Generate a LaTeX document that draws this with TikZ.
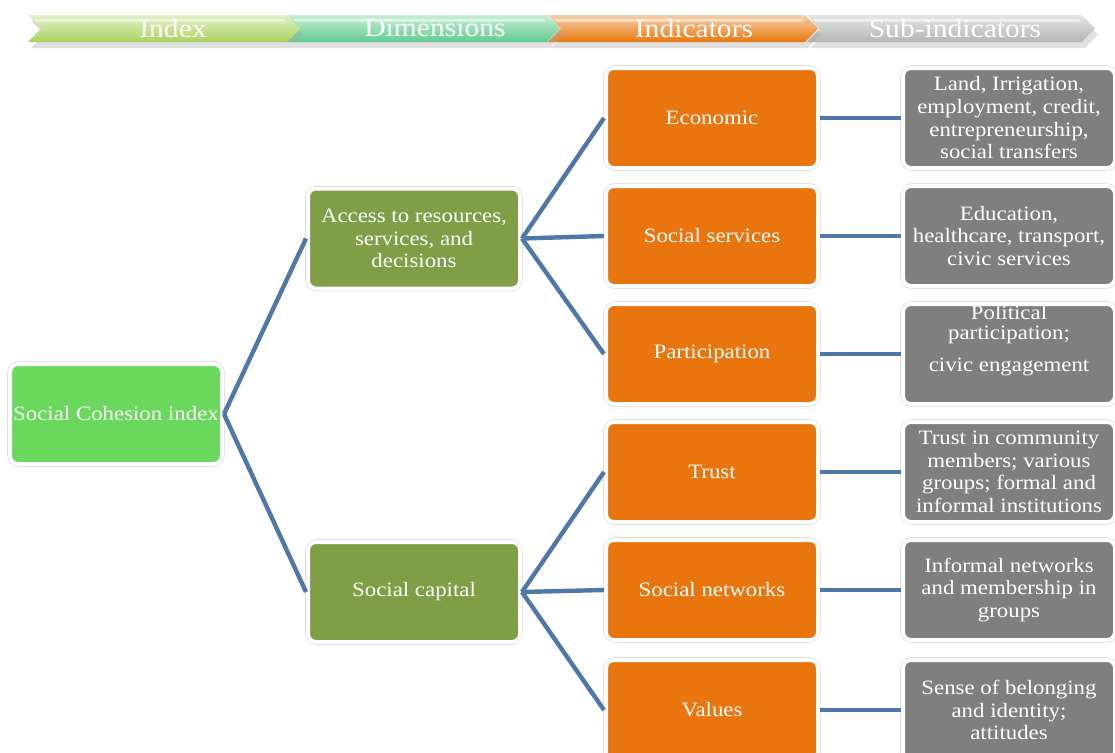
\documentclass[tikz,border=0pt]{standalone}
\usepackage{fontspec}
\setmainfont[FakeStretch=1.12]{Liberation Serif}
\definecolor{cGreen}{HTML}{6AD75D}
\definecolor{cOlive}{HTML}{7F9E45}
\definecolor{cOrange}{HTML}{E8750E}
\definecolor{cGrey}{HTML}{7F7F7F}
\definecolor{cLink}{HTML}{4F78A8}
\definecolor{hIndex}{HTML}{ABD35F}
\definecolor{hDim}{HTML}{62CC8E}
\definecolor{hInd}{HTML}{E8780F}
\definecolor{hSub}{HTML}{B5B5B5}
\tikzset{
  box/.style={rounded corners=6pt, draw=white, line width=3pt,
    preaction={draw=black!18, line width=3.8pt},
    minimum width=159pt, minimum height=75pt, align=center, text=white,
    font=\fontsize{15.3}{17}\selectfont, inner sep=1pt},
  gbox/.style={box, fill=cGreen},
  obox/.style={box, fill=cOlive},
  orbox/.style={box, fill=cOrange},
  grbox/.style={box, fill=cGrey},
  link/.style={draw=cLink, line width=3.3pt},
  htext/.style={text=white, font=\fontsize{19.8}{22}\selectfont},
  ltext/.style={text=white, font=\fontsize{15.3}{17}\selectfont, inner sep=0pt},
}
\newcommand{\chev}[3]{%
  \fill[black!35, opacity=0.35] (#1+3,21) -- (#2-10,21) -- (#2+3,34.5) -- (#2-10,48) -- (#1+3,48) -- (#1+16,34.5) -- cycle;
  \shade[top color=#3!35!white, middle color=#3!55!white, bottom color=#3]
    (#1,15) -- (#2-13,15) -- (#2,28.5) -- (#2-13,42) -- (#1,42) -- (#1+13,28.5) -- cycle;
  \fill[white, opacity=0.55] (#1+6,19) -- (#2-16,19) -- (#2-15,21.5) -- (#1+8,21.5) -- cycle;
}
\begin{document}
\begin{tikzpicture}[x=0.75pt, y=-0.75pt]
\useasboundingbox (0,0) rectangle (1115,753);
\clip (0,0) rectangle (1115,753);
% header
\chev{807}{1095}{hSub}
\chev{548}{818}{hInd}
\chev{287}{560}{hDim}
\chev{28}{300}{hIndex}
\node[htext] (hI) at (173,28) {Index};
\node[htext] (hD) at (435,28) {Dimensions};
\node[htext] (hN) at (694,28) {Indicators};
\node[htext] (hS) at (955,28) {Sub-indicators};
% nodes
\node[gbox] (sci) at (116,414) {Social Cohesion index};
\node[obox] (acc) at (414,238.5) {Access to resources,\\services, and\\decisions};
\node[obox] (cap) at (414,592) {Social capital};
\node[orbox] (o1) at (712,118) {Economic};
\node[orbox] (o2) at (712,236) {Social services};
\node[orbox] (o3) at (712,354) {Participation};
\node[orbox] (o4) at (712,472) {Trust};
\node[orbox] (o5) at (712,590) {Social networks};
\node[orbox] (o6) at (712,710) {Values};
\node[grbox] (g1) at (1009,118) {Land, Irrigation,\\employment, credit,\\entrepreneurship,\\social transfers};
\node[grbox] (g2) at (1009,236) {Education,\\healthcare, transport,\\civic services};
\node[grbox] (g3) at (1009,354) {};
\node[grbox] (g4) at (1009,472) {Trust in community\\members; various\\groups; formal and\\informal institutions};
\node[grbox] (g5) at (1009,590) {Informal networks\\and membership in\\groups};
\node[grbox] (g6) at (1009,710) {Sense of belonging\\and identity;\\attitudes};
\begin{scope}
  \clip ([yshift=-1.8pt]g3.north west) rectangle (g3.south east);
  \node[ltext] (p1) at (1009,313) {Political};
  \node[ltext] (p2) at (1009,335) {participation;};
  \node[ltext] (p3) at (1009,367) {civic engagement};
\end{scope}
% connectors
\draw[link] (sci.east) -- (acc.west);
\draw[link] (sci.east) -- (cap.west);
\foreach \o in {o1,o2,o3} \draw[link] (acc.east) -- (\o.west);
\foreach \o in {o4,o5,o6} \draw[link] (cap.east) -- (\o.west);
\foreach \i in {1,...,6} \draw[link] (o\i.east) -- (g\i.west);
\end{tikzpicture}
\end{document}
